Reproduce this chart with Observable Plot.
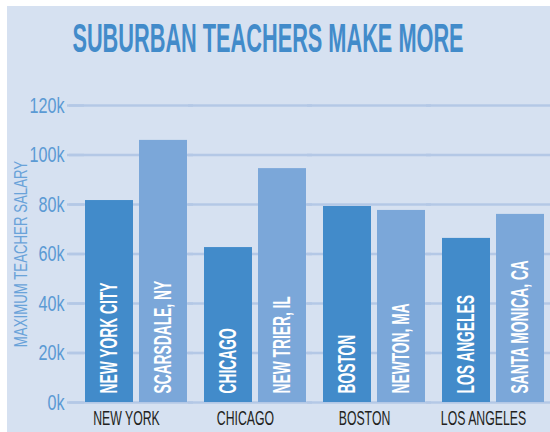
<!DOCTYPE html>
<html><head><meta charset="utf-8">
<script src="https://cdn.jsdelivr.net/npm/d3@7"></script>
<script src="https://cdn.jsdelivr.net/npm/@observablehq/plot@0.6"></script>
<style>
html,body{margin:0;padding:0;background:#fff;}
#card{position:absolute;left:7px;top:6px;width:543px;height:426px;background:#d6e1f1;overflow:hidden;}
#title{position:absolute;left:260.5px;top:12.3px;white-space:nowrap;font-family:"Liberation Sans",sans-serif;font-weight:bold;font-size:41px;line-height:41px;color:#428bca;transform:translateX(-50%) scaleX(0.53);}
#chart{position:absolute;left:0;top:64px;}
</style></head>
<body><div id="card"><div id="title">SUBURBAN TEACHERS MAKE MORE</div><div id="chart"></div></div>
<script>
const groups = ["NEW YORK", "CHICAGO", "BOSTON", "LOS ANGELES"];
const cityNames = ["NEW YORK CITY", "CHICAGO", "BOSTON", "LOS ANGELES"];
const suburbNames = ["SCARSDALE, NY", "NEW TRIER, IL", "NEWTON, MA", "SANTA MONICA, CA"];
const cityValues = [81600, 62600, 79200, 66300];
const suburbValues = [105900, 94500, 77600, 76000];
const yTicks = [0, 20000, 40000, 60000, 80000, 100000, 120000];
const kinds = ["city", "suburb"];
const axisTitle = "MAXIMUM TEACHER SALARY";

const data = groups.flatMap((g, i) => [
  {group: g, kind: "city", name: cityNames[i], value: cityValues[i]},
  {group: g, kind: "suburb", name: suburbNames[i], value: suburbValues[i]}
]);

const gridColor = "#b4c8e6";

const chart = Plot.plot({
  width: 543, height: 362,
  marginTop: 35, marginBottom: 30, marginLeft: 77, marginRight: 5,
  style: {background: "transparent", fontFamily: "'Liberation Sans', sans-serif"},
  fx: {domain: groups, paddingInner: 15 / 119, paddingOuter: 0, axis: null, label: null},
  x: {domain: kinds, paddingInner: 0.109, paddingOuter: 0, axis: null},
  y: {domain: [0, 120000], axis: null},
  color: {domain: kinds, range: ["#428bca", "#7ba7d9"]},
  marks: [
    Plot.ruleY(yTicks, {stroke: gridColor, strokeWidth: 2.5, insetLeft: -15, insetRight: -5}),
    Plot.axisY({ticks: yTicks, tickSize: 17, tickPadding: 3, stroke: gridColor, strokeWidth: 2.5, tickFormat: d => d / 1000 + "k", fontSize: 22, fill: "#5b9ad4", label: null}),
    Plot.barY(data, {fx: "group", x: "kind", y: "value", fill: "kind"}),
    Plot.text(data, {fx: "group", x: "kind", y: 0, text: "name", rotate: -90, textAnchor: "start", dy: -9, fill: "white", fontWeight: "bold", fontSize: 23, ariaDescription: "bar-labels"}),
    Plot.axisFx({anchor: "bottom", tickSize: 0, tickPadding: 9, fontSize: 19.5, fill: "#231f20", dx: -10, label: null}),
    Plot.text([axisTitle], {facet: "super", text: d => d, frameAnchor: "left", textAnchor: "middle", dx: -63, rotate: -90, fill: "#6aa3d9", fontSize: 18, ariaDescription: "y-title"})
  ]
});

function squeeze(sel, k) {
  chart.querySelectorAll(sel).forEach(t => {
    t.setAttribute("transform", (t.getAttribute("transform") || "") + ` scale(${k},1)`);
  });
}
squeeze('g[aria-label="y-axis tick label"] text', 0.734);
squeeze('g[aria-label="fx-axis tick label"] text', 0.63);
squeeze('g[aria-description="bar-labels"] text', 0.6);
squeeze('g[aria-description="y-title"] text', 0.736);

document.getElementById("chart").append(chart);
</script>
</body></html>
